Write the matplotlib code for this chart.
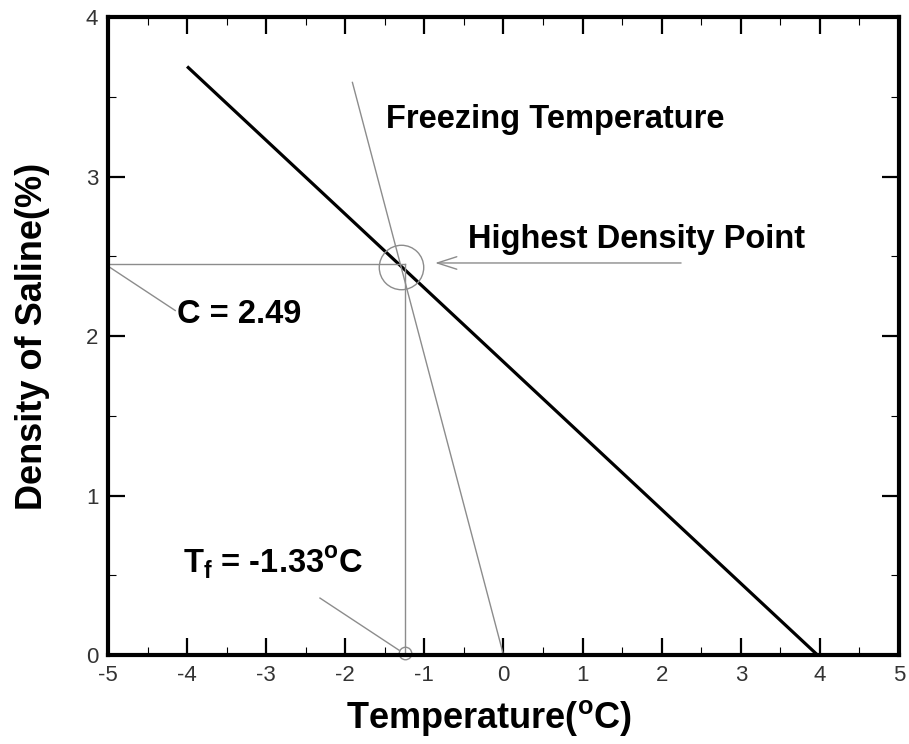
import matplotlib
matplotlib.use("Agg")
import matplotlib.pyplot as plt
from matplotlib.ticker import MultipleLocator

plt.rcParams["font.family"] = ["Liberation Sans", "DejaVu Sans"]
plt.rcParams["mathtext.fontset"] = "custom"
plt.rcParams["mathtext.rm"] = "Liberation Sans"
plt.rcParams["mathtext.bf"] = "Liberation Sans:bold"
plt.rcParams["axes.unicode_minus"] = False

# density line (temperature, density)
density_t = [-4.0, 3.97]
density_s = [3.69, 0.0]

# freezing temperature line
freeze_t = [-1.91, 0.0]
freeze_s = [3.59, 0.0]

# highest density point
hd_t = -1.25
hd_s = 2.45

x_ticks = [-5, -4, -3, -2, -1, 0, 1, 2, 3, 4, 5]
y_ticks = [0, 1, 2, 3, 4]

gray = "#8c8c8c"

fig = plt.figure(figsize=(9.09, 7.44), dpi=100)
ax = fig.add_axes([0.1188, 0.1196, 0.8702, 0.8575])

ax.plot(density_t, density_s, color="black", lw=2.3, solid_capstyle="butt")
ax.plot(freeze_t, freeze_s, color=gray, lw=1.0)

# guide lines to the highest density point
ax.plot([-5, hd_t], [hd_s, hd_s], color=gray, lw=1.0)
ax.plot([hd_t, hd_t], [0, hd_s], color=gray, lw=1.0)
ax.plot([hd_t - 0.05], [hd_s - 0.02], marker="o", ms=32, mfc="none",
        mec=gray, mew=1.0, clip_on=False)
ax.plot([hd_t], [0.01], marker="o", ms=9, mfc="none", mec=gray, mew=1.0,
        clip_on=False)

# arrow
ax.annotate("", xy=(-0.90, 2.458), xytext=(2.28, 2.458),
            arrowprops=dict(arrowstyle="->,head_length=1.4,head_width=0.45",
                            color=gray, lw=1.0))

# leader lines
ax.plot([-4.975, -4.15], [2.43, 2.16], color=gray, lw=1.0, clip_on=False)
ax.plot([-2.32, -1.32], [0.357, 0.03], color=gray, lw=1.0)

tkw = dict(fontsize=23.5, fontweight="bold", va="baseline", ha="left")
ax.text(-1.49, 3.304, "Freezing Temperature", **tkw)
ax.text(-0.443, 2.552, "Highest Density Point", **tkw)
ax.text(-4.127, 2.08, "C = 2.49", **tkw)
ax.text(-4.05, 0.514, r"T$_\mathbf{f}$ = -1.33$^\mathbf{o}$C", **tkw)

ax.set_xlim(-5, 5)
ax.set_ylim(0, 4)
ax.set_xticks(x_ticks)
ax.set_yticks(y_ticks)
ax.xaxis.set_minor_locator(MultipleLocator(0.5))
ax.yaxis.set_minor_locator(MultipleLocator(0.5))
ax.tick_params(which="both", direction="in", top=True, right=True,
               labelsize=16, labelcolor="#333333", pad=7)
ax.tick_params(which="major", length=12, width=1.6)
ax.tick_params(which="minor", length=6, width=0.8)
for s in ax.spines.values():
    s.set_linewidth(3)

ax.set_xlabel(r"Temperature($\mathbf{^o}$C)", fontsize=26, fontweight="bold",
              va="center")
ax.xaxis.set_label_coords(0.482, -0.099)
ax.set_ylabel("Density of Saline(%)", fontsize=26, fontweight="bold",
              va="center")
ax.yaxis.set_label_coords(-0.0955, 0.5)

fig.savefig("out.png", dpi=100)
